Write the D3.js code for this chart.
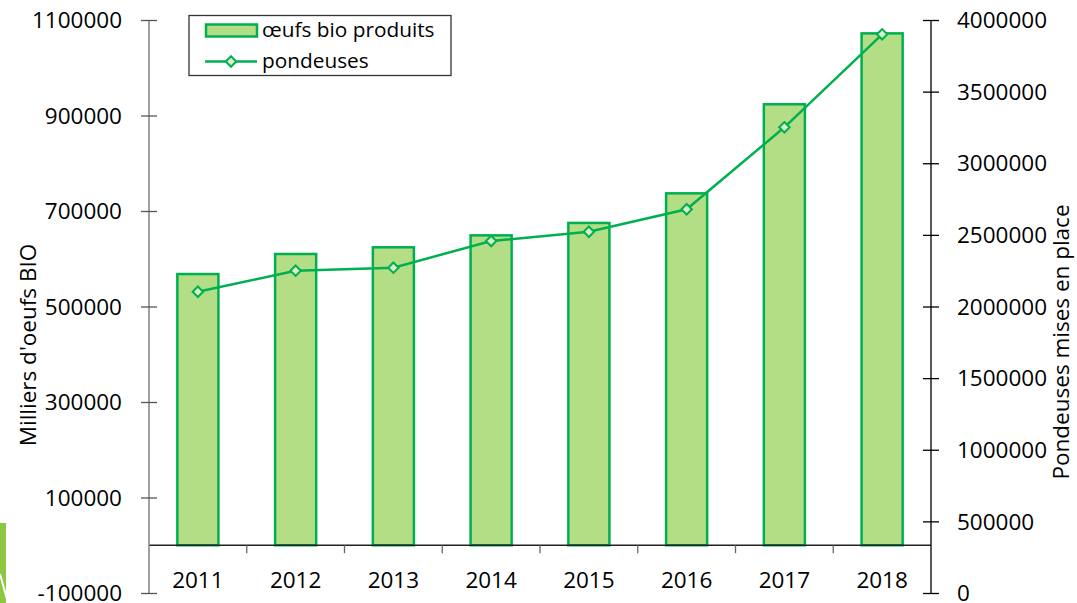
<!DOCTYPE html>
<html>
<head>
<meta charset="utf-8">
<script src="https://cdn.jsdelivr.net/npm/d3@7"></script>
<style>
  html, body { margin: 0; padding: 0; background: #fff; }
  svg text { font-family: "Open Sans", sans-serif; fill: #000; }
</style>
</head>
<body>
<svg id="chart" width="1077" height="603"></svg>
<script>
const years = ["2011", "2012", "2013", "2014", "2015", "2016", "2017", "2018"];
const oeufs = [568000, 610000, 624000, 649000, 675000, 737000, 923500, 1072000];
const pondeuses = [2103000, 2250000, 2271000, 2457000, 2522000, 2679000, 3251000, 3900000];
const leftTicks = [-100000, 100000, 300000, 500000, 700000, 900000, 1100000];
const rightTicks = [0, 500000, 1000000, 1500000, 2000000, 2500000, 3000000, 3500000, 4000000];
const seriesNames = ["œufs bio produits", "pondeuses"];
const leftTitle = "Milliers d'oeufs BIO";
const rightTitle = "Pondeuses mises en place";

const svg = d3.select("#chart");
const X0 = 149, X1 = 931, YT = 20, YB = 593;
const GREEN = "#00b050", FILL = "#b3de85", MFILL = "#dcebc9";

const x = d3.scaleBand().domain(years).range([X0, X1]).paddingInner(0.58).paddingOuter(0.29);
const xStep = d3.scaleBand().domain(years).range([X0, X1]).padding(0);
const yL = d3.scaleLinear().domain([-100000, 1100000]).range([YB, YT]);
const yR = d3.scaleLinear().domain([0, 4000000]).range([YB, YT]);

// logo fragment at left edge
svg.append("rect").attr("x", 0).attr("y", 523).attr("width", 6).attr("height", 80).attr("fill", "#8dc63f");
svg.append("line").attr("x1", 0).attr("y1", 574).attr("x2", 8).attr("y2", 603).attr("stroke", "#fff").attr("stroke-width", 2);

// bars
svg.append("g").selectAll("rect").data(years).join("rect")
  .attr("x", d => x(d))
  .attr("y", (d, i) => yL(oeufs[i]))
  .attr("width", x.bandwidth())
  .attr("height", (d, i) => yL(0) - yL(oeufs[i]))
  .attr("fill", FILL).attr("stroke", GREEN).attr("stroke-width", 2.5);

// x axis
const y0 = yL(0);
svg.append("line").attr("x1", X0).attr("x2", X1).attr("y1", y0).attr("y2", y0).attr("stroke", "#222").attr("stroke-width", 1.3);
svg.append("g").selectAll("line").data(years.slice(1)).join("line")
  .attr("x1", d => xStep(d)).attr("x2", d => xStep(d))
  .attr("y1", y0).attr("y2", y0 + 8).attr("stroke", "#666").attr("stroke-width", 1.3);
svg.append("g").selectAll("text").data(years).join("text")
  .attr("x", d => xStep(d) + xStep.bandwidth() / 2).attr("y", 588)
  .attr("text-anchor", "middle").attr("font-size", 22.5).text(d => d);

const fmt = d => String(d);

// left axis
const gl = svg.append("g").attr("transform", `translate(${X0},0)`)
  .call(d3.axisLeft(yL).tickValues(leftTicks).tickSize(8).tickPadding(19).tickFormat(fmt));
gl.select(".domain").attr("stroke", "#808080").attr("stroke-width", 1.5).attr("d", `M0,${YT}V${YB}`);
gl.selectAll(".tick line").attr("x1", -8).attr("x2", 8).attr("stroke", "#555").attr("stroke-width", 1.3);
gl.selectAll(".tick text").attr("font-size", 22.5).attr("font-family", "Open Sans").attr("fill", "#000").attr("dy", "0.34em");

// right axis
const gr = svg.append("g").attr("transform", `translate(${X1},0)`)
  .call(d3.axisRight(yR).tickValues(rightTicks).tickSize(8).tickPadding(18).tickFormat(fmt));
gr.select(".domain").attr("stroke", "#000").attr("stroke-width", 1.3).attr("d", `M0,${YT}V${YB}`);
gr.selectAll(".tick line").attr("x1", -8).attr("x2", 8).attr("stroke", "#000").attr("stroke-width", 1.3);
gr.selectAll(".tick text").attr("font-size", 22.5).attr("font-family", "Open Sans").attr("fill", "#000").attr("dy", "0.34em");

// line
const cx = d => xStep(d) + xStep.bandwidth() / 2;
const line = d3.line().x(d => cx(d[0])).y(d => yR(d[1]));
const pts = years.map((d, i) => [d, pondeuses[i]]);
svg.append("path").datum(pts).attr("d", line).attr("fill", "none").attr("stroke", GREEN).attr("stroke-width", 2.5);
const diamond = d3.symbol().type(d3.symbolDiamond2).size(70);
svg.append("g").selectAll("path").data(pts).join("path")
  .attr("transform", d => `translate(${cx(d[0])},${yR(d[1])})`)
  .attr("d", diamond).attr("fill", MFILL).attr("stroke", GREEN).attr("stroke-width", 2);

// axis titles
svg.append("text").attr("transform", "translate(36,345) rotate(-90)").attr("text-anchor", "middle")
  .attr("font-size", 22.5).text(leftTitle);
svg.append("text").attr("transform", "translate(1069,342) rotate(-90)").attr("text-anchor", "middle")
  .attr("font-size", 22.5).text(rightTitle);

// legend
const lg = svg.append("g");
lg.append("rect").attr("x", 189).attr("y", 15.5).attr("width", 262).attr("height", 60)
  .attr("fill", "#fff").attr("stroke", "#333").attr("stroke-width", 1.3);
lg.append("rect").attr("x", 206).attr("y", 24.5).attr("width", 51).attr("height", 12)
  .attr("fill", FILL).attr("stroke", GREEN).attr("stroke-width", 2.5);
lg.append("text").attr("x", 262).attr("y", 37).attr("font-size", 20.8).text(seriesNames[0]);
lg.append("line").attr("x1", 205).attr("x2", 257).attr("y1", 61.5).attr("y2", 61.5).attr("stroke", GREEN).attr("stroke-width", 2.5);
lg.append("path").attr("transform", "translate(231,61.5)").attr("d", diamond).attr("fill", MFILL).attr("stroke", GREEN).attr("stroke-width", 2);
lg.append("text").attr("x", 262).attr("y", 68).attr("font-size", 20.8).text(seriesNames[1]);
</script>
</body>
</html>
